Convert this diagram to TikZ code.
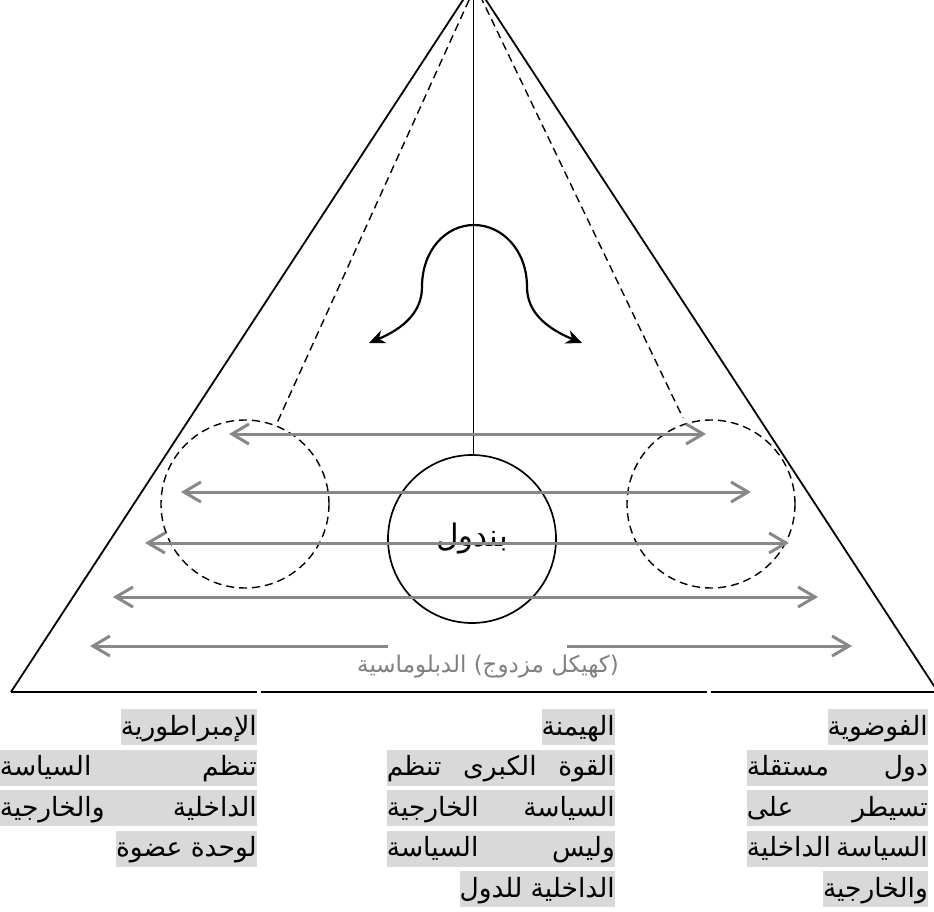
\documentclass[tikz,border=0pt]{standalone}
\usepackage{fontspec}
\usetikzlibrary{arrows.meta}
\newfontfamily\arabicfont[Script=Arabic]{DejaVu Sans}
\definecolor{arrowgray}{HTML}{888888}
\definecolor{hlgray}{HTML}{D9D9D9}
\definecolor{labelgray}{HTML}{808080}
\newcommand\jline[2]{\hbox to #1pt{#2}}
\begin{document}
\begin{tikzpicture}[x=1pt,y=-1pt,
  frame/.style={line width=1.8pt},
  baseseg/.style={line width=2.4pt},
  dashline/.style={line width=1.4pt, dash pattern=on 8pt off 5pt},
  garrow/.style={draw=arrowgray, line width=3pt,
    {Straight Barb[length=17pt,width=20pt]}-{Straight Barb[length=17pt,width=20pt]}},
  gtip/.style={draw=arrowgray, line width=3pt, -{Straight Barb[length=17pt,width=20pt]}},
  swing/.style={line width=2.2pt, {Stealth[length=16pt,width=14pt]}-{Stealth[length=16pt,width=14pt]}},
  hl/.style={fill=hlgray, inner sep=0pt, text height=26pt, text depth=10pt, anchor=east,
    font=\arabicfont\fontsize{26.5}{30}\selectfont},
]
\useasboundingbox (0,0) rectangle (934,912);
\clip (0,0) rectangle (934,912);

% outer triangle
\coordinate (apex) at (474.5,-17.6);
\coordinate (bl) at (11,692);
\coordinate (br) at (938,692);
\draw[frame] (bl) -- (apex) -- (br);
% base, in three pieces
\coordinate (b1) at (257,692);
\coordinate (b2) at (260.5,692);
\coordinate (b3) at (707,692);
\coordinate (b4) at (710.5,692);
\draw[baseseg] (bl) -- (b1);
\draw[baseseg] (b2) -- (b3);
\draw[baseseg] (b4) -- (br);

% dashed swing limits and their circles
\coordinate (dtopL) at (474.5,-12);
\coordinate (dtopR) at (474.5,-16);
\coordinate (dendL) at (277,423);
\coordinate (dendR) at (683,418);
\draw[dashline] (dtopL) -- (dendL);
\draw[dashline] (dtopR) -- (dendR);
\node[draw, dashline, circle, minimum size=168pt, inner sep=0pt] (cl) at (245,504) {};
\node[draw, dashline, circle, minimum size=168pt, inner sep=0pt] (cr) at (711,504) {};

% pendulum
\node[draw, line width=1.7pt, circle, minimum size=168pt, inner sep=0pt,
  font=\arabicfont\fontsize{31}{36}\selectfont] (bob) at (472,539) {بندول};
\coordinate (pivot) at (473.5,-20);
\draw[line width=1.6pt] (pivot) -- (pivot |- bob.north);

% swinging motion
\coordinate (sl) at (369,343);
\coordinate (sr) at (582,343);
\draw[swing] (sl) .. controls (402,329) and (422,313) .. (422,287)
  .. controls (422,250) and (446,225) .. (474,225)
  .. controls (502,225) and (527,250) .. (527,287)
  .. controls (527,313) and (548,329) .. (sr);

% horizontal double arrows
\coordinate (a1l) at (229,434); \coordinate (a1r) at (706,434);
\coordinate (a2l) at (181,492); \coordinate (a2r) at (751,492);
\coordinate (a3l) at (145,543); \coordinate (a3r) at (789,543);
\coordinate (a4l) at (113,597); \coordinate (a4r) at (818,597);
\draw[garrow] (a1l) -- (a1r);
\draw[garrow] (a2l) -- (a2r);
\draw[garrow] (a3l) -- (a3r);
\draw[garrow] (a4l) -- (a4r);
\coordinate (a5l) at (90,646);  \coordinate (a5lm) at (388,646);
\coordinate (a5rm) at (567,646); \coordinate (a5r) at (852,646);
\draw[gtip] (a5lm) -- (a5l);
\draw[gtip] (a5rm) -- (a5r);

% caption inside the triangle
\node[text=labelgray, font=\arabicfont\fontsize{23}{26}\selectfont] (cap) at (488,667)
  {الدبلوماسية مزدوج) (كهيكل};

% right column
\node[hl] (r1) at (928,727)   {الفوضوية};
\node[hl] (r2) at (928,767.5) {\jline{181}{مستقلة\hfill دول}};
\node[hl] (r3) at (928,808)   {\jline{181}{على\hfill تسيطر}};
\node[hl] (r4) at (928,848.5) {\jline{181}{الداخلية\hfill السياسة}};
\node[hl] (r5) at (928,889)   {والخارجية};

% middle column
\node[hl] (m1) at (615,727)   {الهيمنة};
\node[hl] (m2) at (615,767.5) {\jline{228}{تنظم\hfill الكبرى\hfill القوة}};
\node[hl] (m3) at (615,808)   {\jline{228}{الخارجية\hfill السياسة}};
\node[hl] (m4) at (615,848.5) {\jline{228}{السياسة\hfill وليس}};
\node[hl] (m5) at (615,889)   {للدول الداخلية};

% left column
\node[hl] (l1) at (257,727)   {الإمبراطورية};
\node[hl] (l2) at (257,767.5) {\jline{257}{السياسة\hfill تنظم}};
\node[hl] (l3) at (257,808)   {\jline{257}{والخارجية\hfill الداخلية}};
\node[hl] (l4) at (257,848.5) {عضوة لوحدة};
\end{tikzpicture}
\end{document}
